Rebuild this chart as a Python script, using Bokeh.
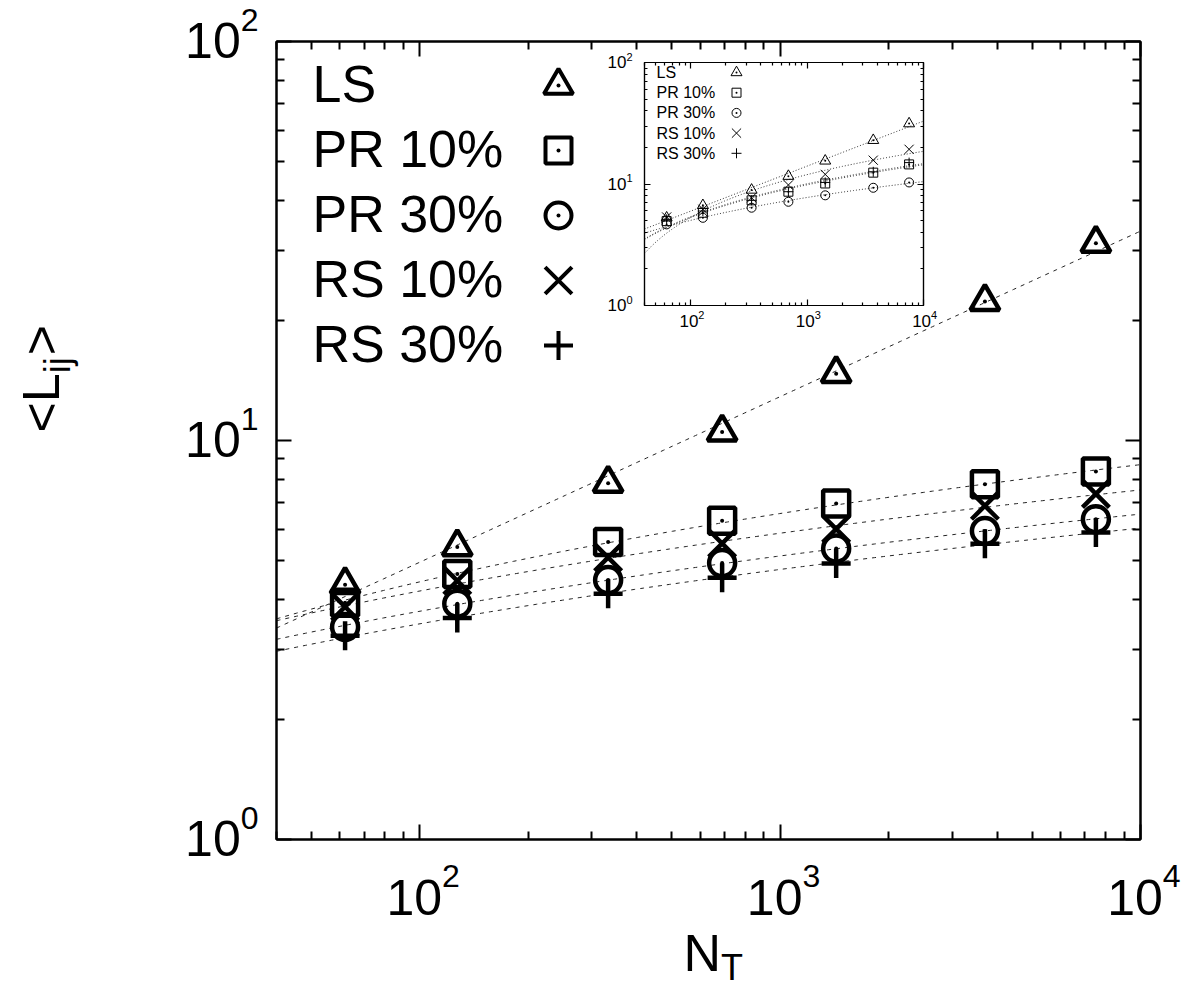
import numpy as np
from bokeh.plotting import figure
from bokeh.models import Range1d, FixedTicker, LogAxis, GridBox
from bokeh.core.properties import value
from bokeh.embed import file_html
from bokeh.resources import INLINE

# ---- data: system size N_T and mean path length <L_ij> ----
n_total = [62, 127, 333, 690, 1430, 3700, 7520]

ls_main = [4.35, 5.41, 7.81, 10.5, 14.7, 22.3, 31.2]
pr10_main = [3.92, 4.63, 5.57, 6.29, 6.95, 7.77, 8.36]
pr30_main = [3.41, 3.90, 4.47, 4.93, 5.36, 5.93, 6.35]
rs10_main = [3.83, 4.45, 5.09, 5.52, 6.00, 6.86, 7.35]
rs30_main = [3.24, 3.59, 4.13, 4.53, 4.92, 5.51, 5.88]

ls_inset = [5.27, 6.67, 8.93, 11.6, 15.5, 22.9, 31.4]
pr10_inset = [4.95, 5.80, 7.34, 8.64, 10.1, 12.4, 14.5]
pr30_inset = [4.65, 5.27, 6.38, 7.14, 8.07, 9.31, 10.3]
rs10_inset = [5.35, 6.19, 7.71, 9.82, 12.0, 15.7, 19.3]
rs30_inset = [5.12, 5.99, 7.34, 8.64, 10.3, 12.6, 15.0]

series_names = ["LS", "PR 10%", "PR 30%", "RS 10%", "RS 30%"]
series_markers = ["triangle", "square", "circle", "x", "cross"]
# power law for LS, logarithmic growth for the others
series_fit = ["power", "log", "log", "log", "log"]
series_dot = [True, True, True, False, False]

x_ticks = [100, 1000, 10000]
x_tick_exp = ["2", "3", "4"]
y_ticks = [1, 10, 100]
y_tick_exp = ["0", "1", "2"]

X_LO, X_HI = 40, 1e4
Y_LO, Y_HI = 1, 100
FONT = "Liberation Sans"

PAGE_W, PAGE_H = 1183, 990
MAIN = (276, 41, 864, 798)            # frame left, top, width, height on the page
IN_LEFT, IN_TOP = 596, 50             # inset figure corner on the page
IN_FRAME = (48, 12, 279, 243)         # inset frame inside its figure
IN_W, IN_H = 48 + 279 + 22, 12 + 243 + 40
INSET = (IN_LEFT + IN_FRAME[0], IN_TOP + IN_FRAME[1], IN_FRAME[2], IN_FRAME[3])
BASELINE_DROP = 0.37                  # text anchor sits this many ems above the drawn baseline


def minor_ticks(e0, e1):
    return [m * 10 ** e for e in range(e0, e1) for m in range(2, 10)]


def fit_curve(kind, n, v, xs):
    if kind == "power":
        b, a = np.polyfit(np.log10(n), np.log10(v), 1)
        return 10 ** (a + b * np.log10(xs))
    b, a = np.polyfit(np.log(n), v, 1)
    return a + b * np.log(xs)


def page_x(v, frame):
    fl, ft, fw, fh = frame
    return fl + fw * (np.log10(v) - np.log10(X_LO)) / (np.log10(X_HI) - np.log10(X_LO))


def page_y(v, frame):
    fl, ft, fw, fh = frame
    return ft + fh * (np.log10(Y_HI) - np.log10(v)) / (np.log10(Y_HI) - np.log10(Y_LO))


def to_data(px, py, frame):
    fl, ft, fw, fh = frame
    lx0, lx1 = np.log10(X_LO), np.log10(X_HI)
    ly0, ly1 = np.log10(Y_LO), np.log10(Y_HI)
    return (10 ** (lx0 + (px - fl) / fw * (lx1 - lx0)),
            10 ** (ly1 - (py - ft) / fh * (ly1 - ly0)))


def no_align(fig):
    if "frame_align" in fig.properties():
        fig.frame_align = False


def make_panel(width, height, left, right, top, bottom, major, minor, lw):
    p = figure(width=width, height=height, x_axis_type="log", y_axis_type="log",
               x_range=Range1d(X_LO, X_HI), y_range=Range1d(Y_LO, Y_HI),
               output_backend="svg", toolbar_location=None,
               min_border_left=left, min_border_right=right,
               min_border_top=top, min_border_bottom=bottom)
    no_align(p)
    p.xgrid.visible = False
    p.ygrid.visible = False
    p.outline_line_color = "black"
    p.outline_line_width = lw
    p.background_fill_color = "white"
    p.border_fill_alpha = 0.0
    p.add_layout(LogAxis(), "above")
    p.add_layout(LogAxis(), "right")
    xt = FixedTicker(ticks=x_ticks, minor_ticks=minor_ticks(1, 4))
    yt = FixedTicker(ticks=y_ticks, minor_ticks=minor_ticks(0, 2))
    for ax in p.xaxis:
        ax.ticker = xt
    for ax in p.yaxis:
        ax.ticker = yt
    for ax in p.axis:
        ax.axis_line_color = "black"
        ax.axis_line_width = lw
        ax.major_tick_in = major
        ax.major_tick_out = 0
        ax.minor_tick_in = minor
        ax.minor_tick_out = 0
        ax.major_tick_line_color = "black"
        ax.minor_tick_line_color = "black"
        ax.major_tick_line_width = lw
        ax.minor_tick_line_width = lw
        ax.major_label_text_font_size = "1px"
        ax.major_label_text_alpha = 0.0
        ax.major_label_standoff = 0
    return p


def draw_series(p, values, msize, mlw, dot, dash, line_w, line_color):
    xs = np.geomspace(X_LO, X_HI, 300)
    for vals, kind in zip(values, series_fit):
        p.line(xs, fit_curve(kind, n_total, vals, xs), line_color=line_color,
               line_width=line_w, line_dash=dash)
    for vals, m, has_dot in zip(values, series_markers, series_dot):
        p.scatter(n_total, vals, marker=m, size=msize[m], fill_color=None,
                  line_color="black", line_width=mlw)
        if has_dot:
            p.scatter(n_total, vals, marker="circle", size=dot,
                      fill_color="black", line_color=None)


def draw_key(p, frame, sym_x, sym_y0, step, msize, mlw, dot):
    for k, m in enumerate(series_markers):
        sx, sy = to_data(sym_x, sym_y0 + step * k, frame)
        p.scatter([sx], [sy], marker=m, size=msize[m], fill_color=None,
                  line_color="black", line_width=mlw)
        if series_dot[k]:
            p.scatter([sx], [sy], marker="circle", size=dot,
                      fill_color="black", line_color=None)


# ---------------- main panel ----------------
main = make_panel(PAGE_W, PAGE_H, MAIN[0], PAGE_W - MAIN[0] - MAIN[2],
                  MAIN[1], PAGE_H - MAIN[1] - MAIN[3], 15, 8, 2)
main_sizes = {"triangle": 29, "square": 26, "circle": 26, "x": 38, "cross": 29}
draw_series(main, [ls_main, pr10_main, pr30_main, rs10_main, rs30_main],
            main_sizes, 4.5, 4, "4 5", 1, "#222222")
draw_key(main, MAIN, 558, 85, 65, main_sizes, 4, 4)

# ---------------- inset panel ----------------
inset = make_panel(IN_W, IN_H, IN_FRAME[0], IN_W - IN_FRAME[0] - IN_FRAME[2],
                   IN_FRAME[1], IN_H - IN_FRAME[1] - IN_FRAME[3], 6, 3, 1.2)
inset_sizes = {"triangle": 11, "square": 9, "circle": 9, "x": 13, "cross": 10}
draw_series(inset, [ls_inset, pr10_inset, pr30_inset, rs10_inset, rs30_inset],
            inset_sizes, 1, 2, "1 2", 1, "#333333")
draw_key(inset, IN_FRAME, 736 - IN_LEFT, 72 - IN_TOP, 20.2, inset_sizes, 1, 2)

# ---------------- text layer (page pixel coordinates) ----------------
over = figure(width=PAGE_W, height=PAGE_H, x_range=Range1d(0, PAGE_W),
              y_range=Range1d(PAGE_H, 0), output_backend="svg",
              toolbar_location=None, x_axis_location=None, y_axis_location=None,
              min_border_left=0, min_border_right=0,
              min_border_top=0, min_border_bottom=0)
no_align(over)
over.xgrid.visible = False
over.ygrid.visible = False
over.outline_line_color = None
over.background_fill_alpha = 0.0
over.border_fill_alpha = 0.0


def txt(x, y, s, size, align="left", vertical=False):
    # (x, y) is the wanted baseline point on the page
    if vertical:
        x, angle = x - BASELINE_DROP * size, np.pi / 2
    else:
        y, angle = y - BASELINE_DROP * size, 0.0
    over.text(x=[x], y=[y], text=[s], text_font=value(FONT),
              text_font_size=value(f"{size}px"), text_align=align,
              text_baseline="alphabetic", text_color="black", angle=angle)


def tick_labels(frame, base, sup, gap_y, x_base_line, raise_):
    fl, ft, fw, fh = frame
    supw = 0.556 * sup
    basew = 1.112 * base
    for v, e in zip(y_ticks, y_tick_exp):
        yb = page_y(v, frame) + 0.358 * base
        xr = fl - gap_y - supw
        txt(xr, yb, "10", base, align="right")
        txt(xr, yb - raise_, e, sup)
    for v, e in zip(x_ticks, x_tick_exp):
        x0 = page_x(v, frame) - 0.6 * basew
        txt(x0, x_base_line, "10", base)
        txt(x0 + basew, x_base_line - raise_, e, sup)


tick_labels(MAIN, 50, 32, 18, 915, 28)
tick_labels(INSET, 17, 11, 12, 327, 8)

# axis titles
txt(683, 972, "N", 52)
txt(683 + 0.722 * 52, 980, "T", 36)
txt(60, 432, "<L", 52, vertical=True)
txt(70, 432 - 1.14 * 52, "ij", 36, vertical=True)
txt(60, 432 - 1.14 * 52 - 0.444 * 36 - 2, ">", 52, vertical=True)

# keys
for k, name in enumerate(series_names):
    txt(312, 103 + 65 * k, name, 52)
    txt(656, 78 + 20.2 * k, name, 16)

layout = GridBox(children=[(main, 0, 0, 3, 3), (inset, 1, 1, 1, 1), (over, 0, 0, 3, 3)],
                 rows=[f"{IN_TOP}px", f"{IN_H}px", f"{PAGE_H - IN_TOP - IN_H}px"],
                 cols=[f"{IN_LEFT}px", f"{IN_W}px", f"{PAGE_W - IN_LEFT - IN_W}px"])
open("out.html", "w").write(file_html(layout, INLINE))
